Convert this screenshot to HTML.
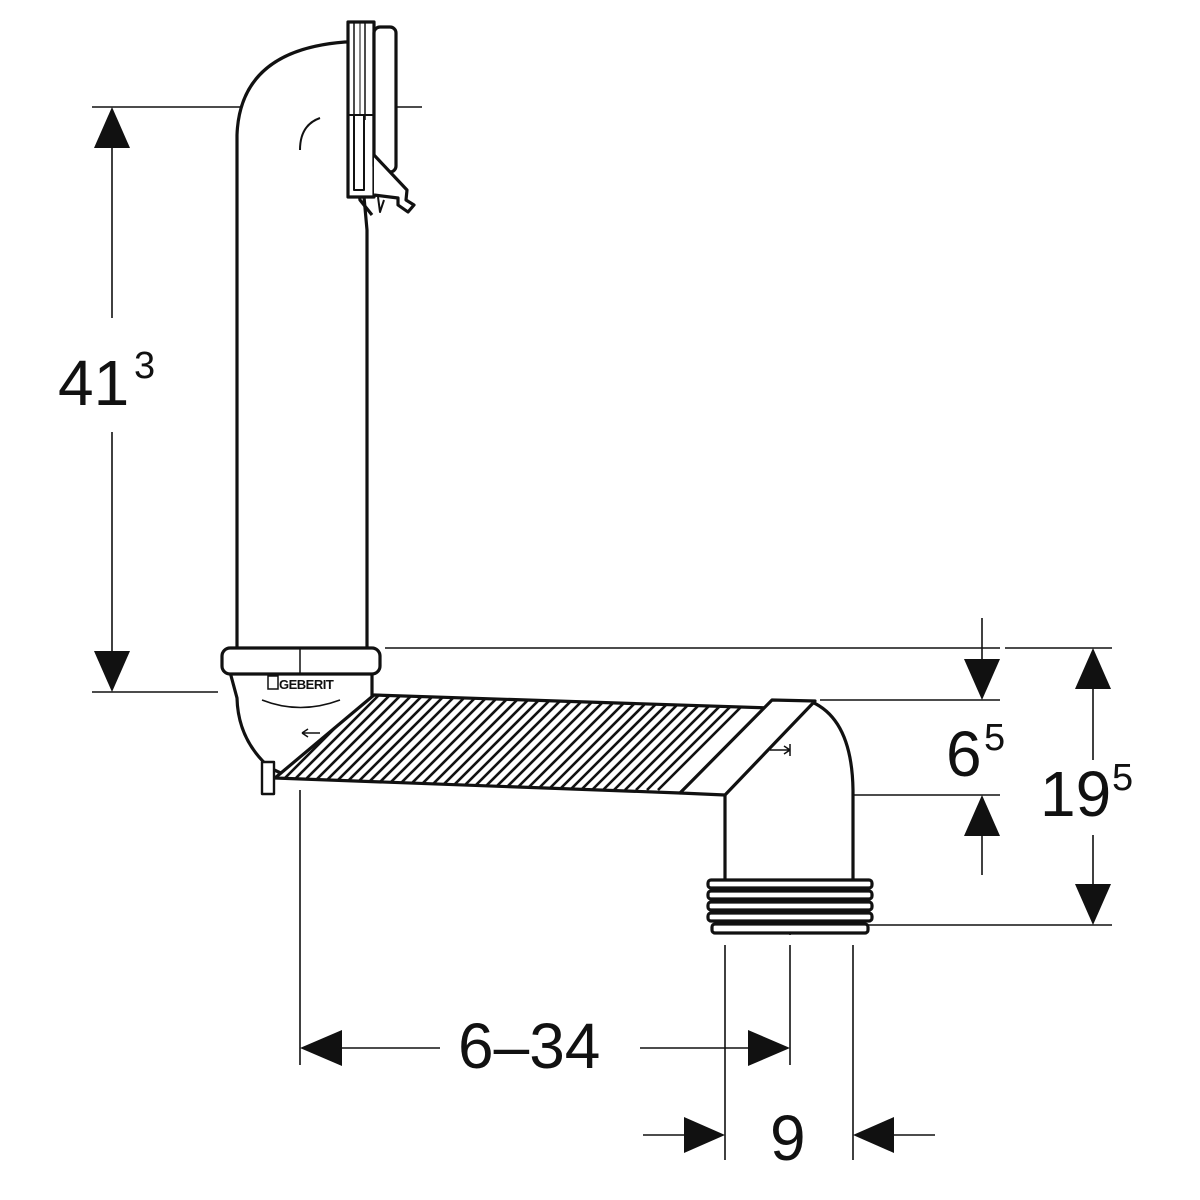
<!DOCTYPE html>
<html><head><style>body{margin:0;background:#fff}svg{display:block}text{font-family:"Liberation Sans",sans-serif;fill:#111}</style></head>
<body>
<svg width="1200" height="1200" viewBox="0 0 1200 1200" xmlns="http://www.w3.org/2000/svg">
<defs>
<clipPath id="hc"><polygon points="374,695 770,708 680,793 275,778"/></clipPath>
</defs>
<g stroke="#111" fill="none" stroke-width="1.6">
<line x1="92" y1="107" x2="318" y2="107"/><line x1="350" y1="107" x2="422" y2="107"/>
<line x1="92" y1="692" x2="218" y2="692"/>
<line x1="112" y1="140" x2="112" y2="318"/><line x1="112" y1="432" x2="112" y2="660"/>
<line x1="385" y1="648" x2="1000" y2="648"/>
<line x1="1005" y1="648" x2="1112" y2="648"/>
<line x1="860" y1="925" x2="1112" y2="925"/>
<line x1="1093" y1="680" x2="1093" y2="760"/><line x1="1093" y1="835" x2="1093" y2="893"/>
<line x1="820" y1="700" x2="1000" y2="700"/><line x1="745" y1="795" x2="1000" y2="795"/>
<line x1="982" y1="618" x2="982" y2="668"/><line x1="982" y1="828" x2="982" y2="875"/>
<line x1="300" y1="790" x2="300" y2="1065"/>
<line x1="725" y1="945" x2="725" y2="1160"/><line x1="853" y1="945" x2="853" y2="1160"/>
<line x1="790" y1="945" x2="790" y2="1065"/>
<line x1="340" y1="1048" x2="440" y2="1048"/><line x1="640" y1="1048" x2="752" y2="1048"/>
<line x1="643" y1="1135" x2="690" y2="1135"/><line x1="888" y1="1135" x2="935" y2="1135"/>
<line x1="300" y1="150" x2="300" y2="780" stroke-dasharray="40,8,4,8"/>
<line x1="790" y1="845" x2="790" y2="935" stroke-dasharray="40,8,4,8"/>
</g>
<g fill="#111">
<polygon points="112,107 94,148 130,148"/><polygon points="112,692 94,651 130,651"/>
<polygon points="1093,648 1075,689 1111,689"/><polygon points="1093,925 1075,884 1111,884"/>
<polygon points="982,700 964,659 1000,659"/><polygon points="982,795 964,836 1000,836"/>
<polygon points="300,1048 342,1030 342,1066"/><polygon points="790,1048 748,1030 748,1066"/>
<polygon points="725,1135 684,1117 684,1153"/><polygon points="853,1135 894,1117 894,1153"/>
</g>
<text x="58" y="405" font-size="64">41</text><text x="134" y="378" font-size="38">3</text>
<text x="946" y="776" font-size="64">6</text><text x="984" y="750" font-size="38">5</text>
<text x="1040" y="816" font-size="64">19</text><text x="1112" y="790" font-size="38">5</text>
<text x="458" y="1068" font-size="64">6–34</text>
<text x="770" y="1160" font-size="64">9</text>
<g stroke="#111" fill="#fff" stroke-width="3.2" stroke-linejoin="round">
<path d="M237,650 L237,135 Q240,50 345,42 L350,42 L367,230 L367,650 Z"/>
<path d="M320,118 Q300,125 300,150" fill="none" stroke-width="2"/>
<path d="M353,60 Q348,100 360,200 L372,215" fill="none"/>
<rect x="348" y="22" width="26" height="175"/>
<rect x="374" y="27" width="22" height="145" rx="6"/>
<path d="M374,155 L407,190 L406,200 L414,205 L408,212 L398,205 L398,198 L374,195" fill="#fff"/>
<path d="M378,197 L380,212 L384,200" fill="none" stroke-width="2"/>
<line x1="354" y1="22" x2="354" y2="120" stroke-width="1.5"/><line x1="365" y1="22" x2="365" y2="120" stroke-width="1.5"/>
<line x1="360" y1="22" x2="360" y2="115" stroke-width="1"/>
<line x1="348" y1="115" x2="374" y2="115" stroke-width="2"/>
<rect x="354" y="115" width="10" height="75" stroke-width="2"/>
<path d="M237,698 Q238,740 270,768 L285,775 L372,700 L372,672 L230,672 Z"/>
<path d="M262,700 Q300,715 340,700" fill="none" stroke-width="1.5"/>
<rect x="262" y="762" width="12" height="32" stroke-width="2.4"/>
<rect x="222" y="648" width="158" height="26" rx="8"/>
<line x1="300" y1="648" x2="300" y2="674" stroke-width="1.5"/>
<path d="M725,795 L725,882 L853,882 L853,790 Q852,720 812,702 L770,705 Z"/>
<polygon points="374,695 770,708 680,793 275,778"/>
</g>
<g clip-path="url(#hc)" stroke="#111" stroke-width="2.6">
<path d="M262,790 L362,690 M273,790 L373,690 M284,790 L384,690 M295,790 L395,690 M306,790 L406,690 M317,790 L417,690 M328,790 L428,690 M339,790 L439,690 M350,790 L450,690 M361,790 L461,690 M372,790 L472,690 M383,790 L483,690 M394,790 L494,690 M405,790 L505,690 M416,790 L516,690 M427,790 L527,690 M438,790 L538,690 M449,790 L549,690 M460,790 L560,690 M471,790 L571,690 M482,790 L582,690 M493,790 L593,690 M504,790 L604,690 M515,790 L615,690 M526,790 L626,690 M537,790 L637,690 M548,790 L648,690 M559,790 L659,690 M570,790 L670,690 M581,790 L681,690 M592,790 L692,690 M603,790 L703,690 M614,790 L714,690 M625,790 L725,690 M636,790 L736,690 M647,790 L747,690 M658,790 L758,690"/>
</g>
<g stroke="#111" fill="#fff" stroke-width="3.2" stroke-linejoin="round">
<polygon points="772,700 815,701 725,795 680,793"/>
<rect x="708" y="880" width="164" height="8" rx="3"/>
<rect x="708" y="891" width="164" height="8" rx="3"/>
<rect x="708" y="902" width="164" height="8" rx="3"/>
<rect x="708" y="913" width="164" height="8" rx="3"/>
<rect x="712" y="924" width="156" height="9" rx="3"/>
</g>
<rect x="268" y="676" width="10" height="13" fill="none" stroke="#111" stroke-width="1.5"/>
<text x="279" y="689" font-size="13" font-weight="bold" letter-spacing="-0.5">GEBERIT</text>
<g stroke="#111" stroke-width="1.5" fill="none">
<path d="M302,733 L320,733 M302,733 L308,729 M302,733 L308,737"/>
<path d="M770,750 L790,750 M790,744 L790,756 M790,750 L784,746 M790,750 L784,754"/>
</g>
</svg>
</body></html>
